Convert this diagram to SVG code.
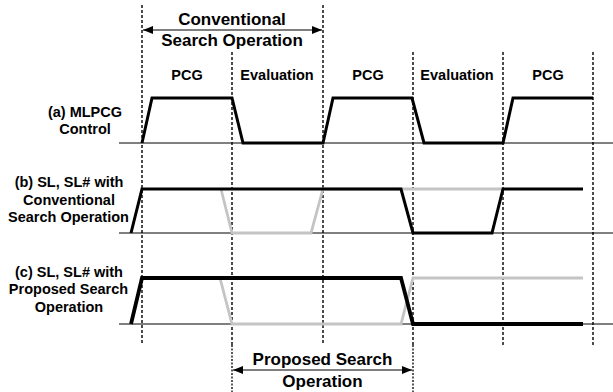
<svg xmlns="http://www.w3.org/2000/svg" width="613" height="392" viewBox="0 0 613 392">
<style>
text{font-family:"Liberation Sans",Arial,sans-serif;font-weight:bold;fill:#000;text-anchor:middle}
.lbl{font-size:14.5px}
.hdr{font-size:17px}
.dash{stroke:#000;stroke-width:1.4;stroke-dasharray:3,2;fill:none}
.dot{stroke:#000;stroke-width:1.3;stroke-dasharray:2,1.5;fill:none}
.base{stroke:#000;stroke-width:1;fill:none}
.wb{stroke:#000;stroke-width:3;fill:none;stroke-linejoin:miter}
.wbt{stroke:#000;stroke-width:3.8;fill:none}
.wg{stroke:#c4c4c4;stroke-width:2.8;fill:none}
.arr{stroke:#000;stroke-width:1.2;fill:none;marker-start:url(#ah);marker-end:url(#ah)}
</style>
<defs>
<marker id="ah" viewBox="0 0 10 8" refX="10" refY="4" markerWidth="10" markerHeight="8" markerUnits="userSpaceOnUse" orient="auto-start-reverse">
<path d="M0,0 L10,4 L0,8 Z" fill="#000"/>
</marker>
</defs>
<g id="grid">
<line class="dash" x1="142" y1="5" x2="142" y2="345"/>
<line class="dash" x1="232" y1="52" x2="232" y2="345"/>
<line class="dot" x1="232" y1="345" x2="232" y2="392"/>
<line class="dash" x1="323" y1="5" x2="323" y2="345"/>
<line class="dash" x1="413" y1="52" x2="413" y2="345"/>
<line class="dot" x1="413" y1="345" x2="413" y2="392"/>
<line class="dash" x1="503" y1="52" x2="503" y2="345"/>
<line class="dash" x1="593" y1="52" x2="593" y2="345"/>
</g>
<g id="conventional-span">
<line class="arr" x1="143" y1="30" x2="322" y2="30"/>
<text class="hdr" x="232" y="25">Conventional</text>
<text class="hdr" x="232" y="46">Search Operation</text>
</g>
<g id="phase-labels">
<text class="lbl" x="187" y="80">PCG</text>
<text class="lbl" x="277" y="80">Evaluation</text>
<text class="lbl" x="368" y="80">PCG</text>
<text class="lbl" x="457" y="80">Evaluation</text>
<text class="lbl" x="548" y="80">PCG</text>
</g>
<g id="wave-a">
<text class="lbl" x="85" y="117">(a) MLPCG</text>
<text class="lbl" x="85" y="134">Control</text>
<line class="base" x1="119" y1="143" x2="613" y2="143"/>
<polyline class="wb" points="142,143 152,98 232,98 243,143 323,143 333,98 412,98 424,143 503,143 513,98 593,98"/>
</g>
<g id="wave-b">
<text class="lbl" x="69" y="187">(b) SL, SL# with</text>
<text class="lbl" x="69" y="205">Conventional</text>
<text class="lbl" x="68.5" y="222">Search Operation</text>
<line class="base" x1="119" y1="233" x2="613" y2="233"/>
<polyline class="wg" points="221,189 232,233 311,233 323,189 503,189"/>
<polyline class="wb" points="131,233 142,189 401,189 413,233 492,233 503,189 583,189"/>
</g>
<g id="wave-c">
<text class="lbl" x="69" y="277">(c) SL, SL# with</text>
<text class="lbl" x="68.5" y="294">Proposed Search</text>
<text class="lbl" x="69" y="312">Operation</text>
<line class="base" x1="119" y1="324" x2="613" y2="324"/>
<polyline class="wg" points="220,278 232,324 401,324 413,278 583,278"/>
<polyline class="wbt" points="131,324 142,278 401,278 413,324 583,324"/>
</g>
<g id="proposed-span">
<line class="arr" x1="233" y1="370" x2="412" y2="370"/>
<text class="hdr" x="322.5" y="365">Proposed Search</text>
<text class="hdr" x="322.5" y="387">Operation</text>
</g>
</svg>
